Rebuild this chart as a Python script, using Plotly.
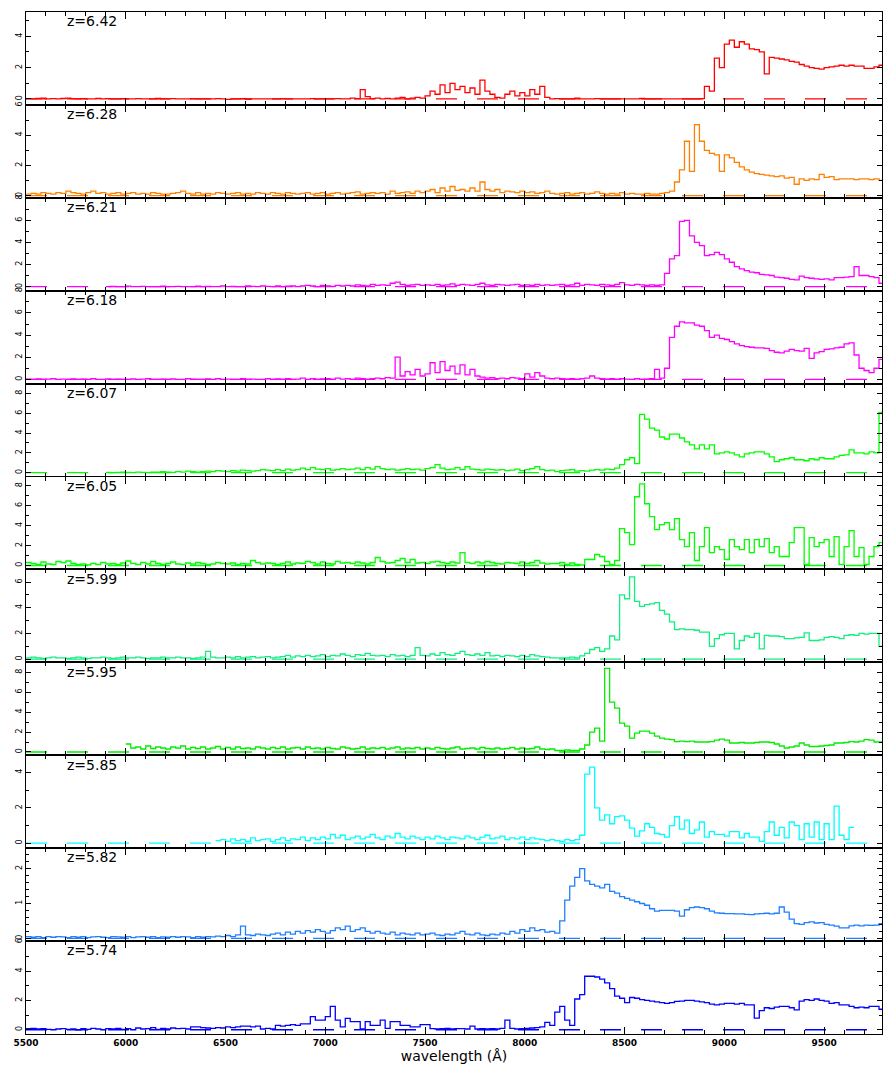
import numpy as np
import plotly.graph_objects as go
from plotly.subplots import make_subplots

# Redshift of each quasar, top panel first
REDSHIFTS = ["6.42", "6.28", "6.21", "6.18", "6.07", "6.05", "5.99", "5.95", "5.85", "5.82", "5.74"]

BIN = 25  # Angstrom per spectral bin

# ---- z = 6.42 ----
z642_blue_start = 5500
z642_blue = [0.02, 0.0, 0.03, 0.05, 0.0, 0.02, 0.0, 0.03, 0.05, 0.02,
             0.0, 0.02, 0.0, 0.0, 0.03, 0.0, 0.02, 0.0, 0.0, 0.02,
             0.0, 0.0, 0.02, 0.0, 0.0, 0.0, 0.03, 0.0, 0.0, 0.02,
             0.0, 0.0, 0.0, 0.02, 0.0, 0.0, 0.0, 0.0, 0.02, 0.0,
             -0.03, 0.0, 0.0, 0.02, -0.02, 0.0, 0.0, 0.0, 0.0, 0.0,
             0.0, 0.02, 0.0, 0.0, 0.0, 0.0, 0.0, 0.02, 0.0, 0.0,
             0.0, 0.0, 0.02, 0.0, 0.0, 0.05, 0.02, 0.6, 0.15, 0.02,
             0.05, 0.0, 0.03, 0.0, 0.05, 0.1, 0.0, 0.05, 0.1, 0.05,
             0.2, 0.5, 0.3, 0.9, 0.4, 1.0, 0.6, 0.8, 0.4, 0.7,
             0.3, 1.2, 0.5, 0.3, 0.1, 0.05, 0.3, 0.5, 0.2, 0.4,
             0.2, 0.6, 0.3, 0.8, 0.1, 0.0, 0.02, 0.0, 0.0, 0.0,
             0.05, 0.0, 0.0, 0.0, 0.02, 0.0, 0.0, 0.0, 0.0, 0.0,
             0.0, 0.0, 0.0, 0.03, 0.0, 0.0, 0.0, 0.0, 0.0, 0.0,
             0.0, 0.0, 0.0, 0.0, 0.0, 0.02]
z642_red_start = 8900
z642_red = [0.8, 0.5, 2.6, 2.0, 3.5, 3.75, 3.3, 3.65, 3.5, 3.2, 3.15, 3.0, 1.6, 2.65, 2.6, 2.55,
            2.5, 2.4, 2.35, 2.2, 2.1, 2.0, 1.95, 1.9, 2.0, 2.05, 2.1, 2.15, 2.1, 2.15, 2.1, 2.1,
            1.95, 1.95, 2.05, 2.15]

# ---- z = 6.28 ----
z628_blue_start = 5500
z628_blue = [0.1, 0.15, 0.1, 0.2, 0.15, 0.1, 0.2, 0.15, 0.3, 0.2,
             0.15, 0.1, 0.2, 0.3, 0.15, 0.2, 0.1, 0.15, 0.2, 0.1,
             0.15, 0.2, 0.1, 0.15, 0.1, 0.2, 0.15, 0.1, 0.1, 0.15,
             0.2, 0.3, 0.15, 0.1, 0.2, 0.1, 0.15, 0.1, 0.2, 0.15,
             0.1, 0.15, 0.2, 0.1, 0.15, 0.1, 0.2, 0.15, 0.1, 0.2,
             0.15, 0.1, 0.2, 0.15, 0.1, 0.15, 0.2, 0.1, 0.15, 0.2,
             0.1, 0.15, 0.2, 0.1, 0.15, 0.2, 0.25, 0.1, 0.15, 0.2,
             0.15, 0.2, 0.1, 0.3, 0.15, 0.2, 0.25, 0.15, 0.3, 0.2,
             0.3, 0.4, 0.2, 0.5, 0.3, 0.6, 0.35, 0.4, 0.3, 0.5,
             0.3, 0.9, 0.4, 0.3, 0.4, 0.2, 0.3, 0.25, 0.2, 0.3,
             0.2, 0.25, 0.15, 0.2, 0.3, 0.15, 0.1, 0.15, 0.2, 0.1,
             0.15, 0.2, 0.1, 0.15, 0.25, 0.15, 0.1, 0.15, 0.1, 0.2,
             0.1, 0.15, 0.1, 0.1, 0.15, 0.1, 0.1, 0.15, 0.2]
z628_red_start = 8725
z628_red = [0.3, 0.9, 1.7, 3.6, 1.6, 4.7, 3.6, 3.0, 2.8, 2.7, 1.6, 2.7, 2.5, 2.2, 1.9, 1.7,
            1.55, 1.45, 1.4, 1.35, 1.3, 1.25, 1.3, 1.15, 1.2, 0.75, 1.1, 1.0, 1.1, 1.05, 1.4,
            1.2, 1.25, 1.05, 1.1, 1.1, 1.1, 1.05, 1.1, 1.1, 1.05, 1.1, 1.0]

# ---- z = 6.21 ----
z621_blue_start = 5900
z621_blue = [0.0, 0.02, 0.0, 0.0, 0.03, 0.0, 0.0, 0.02, 0.0, 0.0,
             0.0, 0.03, 0.0, 0.0, 0.02, 0.0, 0.0, 0.0, 0.03, 0.0,
             0.02, 0.0, 0.0, 0.05, 0.0, 0.02, 0.0, 0.0, 0.05, 0.02,
             0.0, 0.05, 0.02, 0.0, 0.05, 0.0, 0.03, 0.05, 0.0, 0.05,
             0.1, 0.05, 0.0, 0.1, 0.05, 0.02, 0.1, 0.05, 0.1, 0.05,
             0.15, 0.1, 0.05, 0.2, 0.1, 0.15, 0.1, 0.3, 0.4, 0.2,
             0.1, 0.15, 0.2, 0.1, 0.15, 0.1, 0.2, 0.1, 0.15, 0.25,
             0.1, 0.2, 0.15, 0.1, 0.2, 0.3, 0.15, 0.1, 0.2, 0.15,
             0.1, 0.15, 0.2, 0.1, 0.15, 0.1, 0.2, 0.1, 0.15, 0.1,
             0.15, 0.2, 0.1, 0.15, 0.3, 0.1, 0.2, 0.15, 0.1, 0.2,
             0.15, 0.1, 0.2, 0.35, 0.15, 0.1, 0.2, 0.15, 0.1, 0.15,
             0.1, 0.15]
z621_red_start = 8700
z621_red = [1.2, 2.5, 2.8, 5.9, 6.0, 4.6, 4.0, 3.7, 2.8, 2.9, 3.1, 2.9, 2.5, 2.2, 1.8, 1.6,
            1.45, 1.3, 1.25, 1.1, 1.05, 1.0, 0.85, 0.8, 0.75, 0.65, 0.6, 0.95, 0.8, 0.75, 0.7,
            0.65, 0.7, 0.6, 0.8, 0.8, 0.85, 0.9, 1.8, 1.0, 1.0, 0.9, 0.8, 0.3]

# ---- z = 6.18 ----
z618_blue_start = 5500
z618_blue = [0.02, 0.0, 0.03, 0.0, 0.02, 0.05, 0.0, 0.02, 0.0, 0.03,
             0.0, 0.02, 0.0, 0.05, 0.0, 0.0, 0.03, 0.0, 0.02, 0.0,
             0.0, 0.03, 0.0, 0.02, 0.05, 0.0, 0.0, 0.02, 0.0, 0.03,
             0.0, 0.0, 0.05, 0.02, 0.0, 0.0, 0.03, 0.0, 0.05, 0.0,
             0.02, 0.0, 0.0, 0.05, 0.0, 0.02, 0.0, 0.0, 0.05, 0.0,
             0.03, 0.0, 0.05, 0.0, 0.02, 0.1, 0.0, 0.05, 0.0, 0.03,
             0.05, 0.0, 0.1, 0.02, 0.05, 0.0, 0.1, 0.05, 0.0, 0.05,
             0.1, 0.05, 0.15, 0.1, 2.0, 0.3, 0.7, 0.4, 0.9, 0.3,
             0.5, 1.5, 0.6, 1.6, 0.8, 1.2, 0.5, 1.3, 0.4, 0.9,
             0.3, 0.2, 0.1, 0.15, 0.05, 0.1, 0.05, 0.15, 0.1, 0.05,
             0.5, 0.2, 0.6, 0.3, 0.1, 0.05, 0.1, 0.05, 0.02, 0.05,
             0.0, 0.05, 0.1, 0.3, 0.1, 0.05, 0.02, 0.05, 0.0, 0.05,
             0.02, 0.0, 0.05, 0.0, 0.02, 0.05]
z618_red_start = 8650
z618_red = [0.9, 0.1, 1.0, 3.8, 4.8, 5.2, 5.1, 5.1, 4.9, 4.8, 4.4, 3.8, 4.0, 3.7, 3.6, 3.4,
            3.2, 3.05, 2.95, 2.9, 2.85, 2.85, 2.8, 2.6, 2.45, 2.4, 2.55, 2.7, 2.6, 2.55, 2.8,
            1.9, 2.4, 2.5, 2.7, 2.75, 2.85, 2.9, 3.2, 3.3, 2.2, 1.0, 0.8, 0.6, 1.0, 1.8]

# ---- z = 6.07 ----
z607_blue_start = 5900
z607_blue = [0.02, 0.0, 0.03, 0.05, 0.02, 0.0, 0.05, 0.03, 0.0, 0.05,
             0.05, 0.1, 0.05, 0.02, 0.1, 0.05, 0.15, 0.1, 0.05, 0.1,
             0.15, 0.1, 0.2, 0.15, 0.1, 0.2, 0.15, 0.25, 0.2, 0.15,
             0.2, 0.3, 0.25, 0.2, 0.3, 0.2, 0.35, 0.25, 0.3, 0.45,
             0.3, 0.5, 0.35, 0.3, 0.4, 0.25, 0.3, 0.4, 0.3, 0.35,
             0.45, 0.3, 0.5, 0.35, 0.6, 0.4, 0.3, 0.35, 0.25, 0.3,
             0.4, 0.3, 0.35, 0.25, 0.4, 0.5, 0.8, 0.45, 0.3, 0.35,
             0.5, 0.3, 0.6, 0.35, 0.3, 0.25, 0.35, 0.3, 0.25, 0.3,
             0.2, 0.25, 0.35, 0.2, 0.3, 0.4, 0.6, 0.3, 0.2, 0.25]
z607_red_start = 8150
z607_red = [0.1, 0.2, 0.25, 0.3, 0.15, 0.2, 0.15, 0.25, 0.3, 0.25, 0.35, 0.3, 0.45, 0.8, 1.3,
            1.5, 0.9, 5.9, 5.4, 4.5, 4.3, 3.6, 3.4, 3.9, 3.9, 3.5, 3.1, 2.8, 2.4, 2.8, 2.4, 2.8,
            1.9, 2.0, 2.1, 2.0, 1.8, 1.6, 1.9, 2.0, 2.1, 2.1, 1.9, 1.6, 1.1, 1.3, 1.4, 1.5, 1.3,
            1.3, 1.2, 1.4, 1.3, 1.5, 1.4, 1.4, 1.6, 1.75, 1.8, 2.3, 2.0, 2.0, 1.9, 2.1, 2.0, 6.1]

# ---- z = 6.05 ----
z605_blue_start = 5500
z605_blue = [0.3, 0.2, 0.1, 0.35, 0.15, 0.1, 0.4, 0.3, 0.45, 0.2,
             0.1, 0.15, 0.05, 0.2, 0.1, 0.3, 0.15, 0.2, 0.1, 0.25,
             0.45, 0.2, 0.1, 0.3, 0.15, 0.4, 0.2, 0.1, 0.2, 0.35,
             0.15, 0.1, 0.25, 0.15, 0.3, 0.2, 0.1, 0.15, 0.3, 0.2,
             0.15, 0.25, 0.1, 0.2, 0.15, 0.5, 0.3, 0.15, 0.25, 0.2,
             0.1, 0.2, 0.35, 0.15, 0.25, 0.2, 0.4, 0.3, 0.15, 0.35,
             0.2, 0.15, 0.4, 0.25, 0.3, 0.2, 0.35, 0.25, 0.15, 0.3,
             0.8, 0.4, 0.25, 0.3, 0.5, 0.7, 0.3, 0.6, 0.25, 0.3,
             0.2, 0.35, 0.4, 0.3, 0.2, 0.35, 0.25, 1.3, 0.3, 0.2,
             0.35, 0.25, 0.4, 0.3, 0.2, 0.15, 0.3, 0.25, 0.2, 0.35,
             0.2, 0.3, 0.5, 0.25, 0.15, 0.2]
z605_red_start = 8150
z605_red = [0.2, 0.3, 0.1, 0.25, 0.1, 0.05, 0.6, 0.6, 1.1, 0.9, 0.4, 0.1, 0.5, 3.7, 3.3, 2.1,
            6.9, 8.2, 6.2, 4.9, 3.6, 4.1, 4.3, 3.6, 4.7, 2.6, 1.9, 3.3, 0.5, 1.9, 3.8, 1.3, 1.9,
            1.6, 0.6, 2.6, 1.9, 1.6, 2.6, 1.3, 2.6, 1.9, 2.7, 1.3, 1.9, 0.9, 0.9, 2.3, 3.8, 3.8,
            0.1, 2.8, 1.9, 2.3, 2.6, 0.9, 2.9, 0.1, 1.9, 3.5, 0.9, 1.8, 0.1, 0.9, 1.9, 2.3]

# ---- z = 5.99 ----
z599_blue_start = 5500
z599_blue = [0.1, 0.15, 0.1, 0.05, 0.1, 0.15, 0.1, 0.1, 0.05, 0.1,
             0.15, 0.1, 0.05, 0.1, 0.1, 0.15, 0.1, 0.05, 0.1, 0.15,
             0.1, 0.1, 0.15, 0.1, 0.05, 0.1, 0.1, 0.15, 0.1, 0.1,
             0.15, 0.1, 0.1, 0.05, 0.1, 0.15, 0.6, 0.15, 0.1, 0.1,
             0.15, 0.1, 0.2, 0.1, 0.15, 0.2, 0.1, 0.15, 0.2, 0.1,
             0.15, 0.2, 0.3, 0.15, 0.25, 0.2, 0.3, 0.2, 0.25, 0.35,
             0.2, 0.3, 0.25, 0.4, 0.3, 0.2, 0.35, 0.3, 0.45, 0.3,
             0.25, 0.3, 0.2, 0.35, 0.25, 0.3, 0.2, 0.3, 0.9, 0.3,
             0.25, 0.4, 0.3, 0.5, 0.35, 0.3, 0.45, 0.6, 0.35, 0.3,
             0.4, 0.3, 0.5, 0.25, 0.3, 0.2, 0.3, 0.25, 0.2, 0.3,
             0.2, 0.35, 0.25, 0.2, 0.15, 0.1]
z599_red_start = 8150
z599_red = [0.1, 0.1, 0.1, 0.15, 0.1, 0.25, 0.45, 0.75, 0.9, 0.6, 0.8, 1.8, 1.5, 5.0, 4.7, 6.4,
            4.5, 4.1, 4.25, 4.3, 4.4, 3.8, 3.5, 2.9, 2.3, 2.35, 2.3, 2.3, 2.25, 2.1, 2.1, 1.0,
            1.6, 1.9, 2.0, 2.0, 0.8, 1.45, 1.8, 1.7, 2.0, 0.8, 1.85, 1.8, 1.8, 1.75, 1.6, 1.6,
            1.65, 1.7, 2.05, 1.45, 1.45, 1.5, 1.7, 1.75, 1.7, 1.6, 1.85, 1.9, 1.85, 2.0, 1.95,
            2.0, 2.0, 1.0]

# ---- z = 5.95 ----
z595_blue_start = 6000
z595_blue = [0.8, 0.4, 0.5, 0.3, 0.6, 0.35, 0.5, 0.4, 0.3, 0.5,
             0.4, 0.6, 0.3, 0.45, 0.35, 0.5, 0.3, 0.4, 0.55, 0.3,
             0.45, 0.3, 0.5, 0.35, 0.4, 0.3, 0.5, 0.4, 0.3, 0.45,
             0.35, 0.5, 0.3, 0.4, 0.45, 0.3, 0.5, 0.35, 0.4, 0.3,
             0.45, 0.35, 0.3, 0.5, 0.4, 0.3, 0.35, 0.5, 0.3, 0.4,
             0.35, 0.45, 0.3, 0.4, 0.5, 0.3, 0.4, 0.35, 0.45, 0.3,
             0.4, 0.3, 0.45, 0.35, 0.3, 0.4, 0.5, 0.3, 0.35, 0.4,
             0.3, 0.45, 0.35, 0.3, 0.4, 0.3, 0.35, 0.45, 0.3, 0.4,
             0.3, 0.35, 0.5, 0.3, 0.25, 0.3]
z595_red_start = 8150
z595_red = [0.15, 0.15, 0.2, 0.15, 0.15, 0.3, 0.7, 2.0, 2.4, 1.1, 8.4, 5.0, 4.4, 2.9, 2.6, 1.4,
            1.9, 2.1, 2.1, 1.9, 1.6, 1.4, 1.3, 1.25, 1.05, 1.1, 1.05, 1.1, 1.0, 1.0, 1.0, 1.05,
            1.2, 1.3, 1.2, 0.9, 0.9, 0.95, 0.9, 0.9, 0.95, 1.0, 1.0, 0.95, 0.8, 0.6, 0.4, 0.5,
            0.6, 0.9, 0.7, 0.55, 0.55, 0.6, 0.65, 0.7, 0.9, 0.9, 0.95, 1.05, 1.0, 1.1, 1.25,
            1.2, 1.0, 1.0]

# ---- z = 5.85 ----
z585_blue_start = 6450
z585_blue = [0.15, 0.2, 0.1, 0.25, 0.15, 0.2, 0.1, 0.3, 0.15, 0.2,
             0.25, 0.1, 0.2, 0.3, 0.15, 0.25, 0.2, 0.35, 0.15, 0.3,
             0.2, 0.35, 0.25, 0.5, 0.3, 0.45, 0.2, 0.3, 0.4, 0.25,
             0.35, 0.5, 0.3, 0.2, 0.4, 0.3, 0.55, 0.35, 0.25, 0.4,
             0.3, 0.2, 0.35, 0.25, 0.4, 0.3, 0.2, 0.35, 0.3, 0.25,
             0.4, 0.3, 0.2, 0.35, 0.45, 0.25, 0.3, 0.4, 0.2, 0.3,
             0.25, 0.35, 0.2, 0.3, 0.25, 0.2, 0.15, 0.2]
z585_red_start = 8150
z585_red = [0.15, 0.1, 0.2, 0.15, 0.2, 0.45, 3.9, 4.3, 2.0, 1.3, 1.6, 1.1, 1.5, 1.55, 1.3, 0.85,
            0.4, 0.7, 1.1, 0.9, 0.55, 0.5, 0.35, 1.0, 1.5, 0.8, 1.3, 0.55, 0.75, 1.2, 0.35,
            0.65, 0.5, 0.5, 0.4, 0.65, 0.65, 0.3, 0.55, 0.35, 0.35, 0.1, 0.65, 1.2, 0.45, 0.9,
            0.3, 1.2, 1.0, 0.2, 1.1, 0.35, 1.2, 0.2, 1.1, 0.2, 2.1, 0.45, 0.2, 0.9]

# ---- z = 5.82 ----
z582_blue_start = 5500
z582_blue = [0.05, 0.03, 0.05, 0.02, 0.05, 0.03, 0.05, 0.04, 0.02, 0.05,
             0.03, 0.05, 0.02, 0.04, 0.05, 0.03, 0.02, 0.05, 0.04, 0.03,
             0.05, 0.02, 0.04, 0.05, 0.03, 0.05, 0.02, 0.04, 0.03, 0.05,
             0.03, 0.05, 0.04, 0.02, 0.05, 0.03, 0.05, 0.04, 0.06, 0.05,
             0.08, 0.05, 0.1, 0.35, 0.1, 0.08, 0.12, 0.1, 0.08, 0.12,
             0.15, 0.1, 0.18, 0.12, 0.2, 0.15, 0.22, 0.18, 0.25, 0.2,
             0.15, 0.22, 0.3, 0.25, 0.35, 0.2, 0.25, 0.3, 0.2, 0.15,
             0.2, 0.15, 0.12, 0.18, 0.1, 0.15, 0.12, 0.1, 0.15, 0.1,
             0.12, 0.15, 0.1, 0.08, 0.12, 0.1, 0.15, 0.2, 0.12, 0.1,
             0.15, 0.1, 0.08, 0.12, 0.1, 0.15, 0.12, 0.2, 0.15, 0.25,
             0.2, 0.3, 0.22, 0.25]
z582_red_start = 8100
z582_red = [0.18, 0.2, 0.15, 0.5, 1.1, 1.5, 1.75, 2.0, 1.65, 1.55, 1.5, 1.45, 1.55, 1.35, 1.3,
            1.2, 1.15, 1.1, 1.05, 1.0, 0.95, 0.85, 0.78, 0.8, 0.8, 0.8, 0.78, 0.64, 0.82, 0.88,
            0.9, 0.88, 0.85, 0.78, 0.73, 0.72, 0.71, 0.71, 0.7, 0.7, 0.69, 0.68, 0.7, 0.71, 0.72,
            0.7, 0.72, 0.9, 0.75, 0.55, 0.42, 0.4, 0.45, 0.47, 0.44, 0.45, 0.4, 0.38, 0.35, 0.3,
            0.3, 0.36, 0.38, 0.36, 0.38, 0.37, 0.38, 0.42]

# ---- z = 5.74 ----
z574_blue_start = 5500
z574_blue = [0.07, 0.1, 0.05, 0.07, 0.03, 0.0, 0.05, 0.08, 0.02, 0.05,
             0.0, 0.07, 0.03, 0.1, 0.05, 0.0, 0.08, 0.05, 0.1, 0.03,
             0.07, 0.0, 0.12, 0.05, 0.08, 0.15, 0.03, 0.1, 0.05, 0.12,
             0.07, 0.1, 0.05, 0.2, 0.2, 0.15, 0.12, 0.1, 0.15, 0.12,
             0.2, 0.15, 0.2, 0.25, 0.25, 0.2, 0.25, 0.05, 0.1, 0.05,
             0.3, 0.25, 0.3, 0.35, 0.3, 0.4, 0.4, 0.9, 0.65, 0.65,
             0.9, 1.6, 0.65, 0.2, 0.77, 0.55, 0.55, 0.05, 0.55, 0.3,
             0.3, 0.65, 0.1, 0.55, 0.55, 0.3, 0.3, 0.2, 0.2, 0.35,
             0.35, 0.07, 0.05, 0.07, 0.1, 0.05, 0.07, 0.08, 0.05, 0.25,
             0.05, 0.07, 0.05, 0.08, 0.05, 0.1, 0.65, 0.1, 0.05, 0.08,
             0.1, 0.12]
z574_red_start = 8050
z574_red = [0.15, 0.2, 0.5, 0.3, 1.2, 1.6, 0.65, 0.3, 2.1, 2.4, 3.65, 3.65, 3.6, 3.45, 3.2, 2.8,
            2.3, 2.15, 1.85, 2.2, 2.15, 2.05, 2.0, 1.95, 1.9, 1.85, 1.8, 1.85, 1.93, 1.95, 2.0,
            2.0, 1.95, 1.9, 1.85, 1.75, 1.7, 1.75, 1.8, 1.8, 1.75, 1.8, 1.7, 1.7, 0.8, 1.3, 1.5,
            1.45, 1.55, 1.6, 1.6, 1.5, 1.35, 1.95, 2.05, 2.0, 2.1, 2.0, 1.95, 1.8, 1.85, 1.7,
            1.7, 1.6, 1.5, 1.55, 1.5, 1.6, 1.6, 1.4]

SPECTRA = [
    (z642_blue_start, z642_blue, z642_red_start, z642_red),
    (z628_blue_start, z628_blue, z628_red_start, z628_red),
    (z621_blue_start, z621_blue, z621_red_start, z621_red),
    (z618_blue_start, z618_blue, z618_red_start, z618_red),
    (z607_blue_start, z607_blue, z607_red_start, z607_red),
    (z605_blue_start, z605_blue, z605_red_start, z605_red),
    (z599_blue_start, z599_blue, z599_red_start, z599_red),
    (z595_blue_start, z595_blue, z595_red_start, z595_red),
    (z585_blue_start, z585_blue, z585_red_start, z585_red),
    (z582_blue_start, z582_blue, z582_red_start, z582_red),
    (z574_blue_start, z574_blue, z574_red_start, z574_red),
]

# ---- styling ----
COLORS = ["#ff0000", "#ff8000", "#ff00ff", "#ff00ff", "#00ff00", "#00ff00",
          "#10f080", "#00ee00", "#00ffff", "#1e7fff", "#0000ff"]
Y_RANGES = [(-0.38, 5.55), (-0.15, 6.01), (-0.38, 8.04), (-0.39, 8.01), (-0.4, 9.0),
            (-0.4, 8.93), (-0.25, 6.98), (-0.33, 9.0), (-0.28, 4.97), (-0.08, 2.59),
            (-0.29, 6.05)]
Y_MAJOR = [2, 2, 2, 2, 2, 2, 2, 2, 2, 1, 2]
Y_MINOR = [1, 1, 1, 1, 1, 1, 1, 1, 1, 0.2, 1]
X_RANGE = (5500, 9790)
FONT = "DejaVu Sans"

n = len(SPECTRA)
fig = make_subplots(rows=n, cols=1, shared_xaxes=True, vertical_spacing=0)

for k, (bs, bf, rs, rf) in enumerate(SPECTRA):
    row = k + 1
    wb = bs + BIN * np.arange(len(bf))
    keep = wb < rs
    wr = rs + BIN * np.arange(len(rf))
    wave = np.concatenate([wb[keep], wr, [wr[-1] + BIN]])
    flux = np.concatenate([np.asarray(bf)[keep], rf, [rf[-1]]])

    # dashed zero level
    fig.add_trace(go.Scatter(x=list(X_RANGE), y=[0, 0], mode="lines",
                             line=dict(color=COLORS[k], width=1.3, dash="21px,20px"),
                             hoverinfo="skip"), row=row, col=1)
    # spectrum as a histogram-style step line
    fig.add_trace(go.Scatter(x=wave, y=flux, mode="lines", line_shape="hv",
                             line=dict(color=COLORS[k], width=1.3)), row=row, col=1)

    fig.update_yaxes(range=list(Y_RANGES[k]), tick0=0, dtick=Y_MAJOR[k],
                     ticks="inside", ticklen=5, tickwidth=1, tickcolor="black",
                     minor=dict(ticks="inside", dtick=Y_MINOR[k], tick0=0, ticklen=3,
                                tickcolor="black", tickwidth=1),
                     showline=True, linecolor="black", linewidth=1, mirror="ticks",
                     showgrid=False, zeroline=False, tickangle=-90,
                     tickfont=dict(family=FONT, size=8, color="black"),
                     row=row, col=1)
    fig.update_xaxes(range=list(X_RANGE), tick0=5500, dtick=500, tickformat="d",
                     ticks="inside", ticklen=7, tickwidth=1, tickcolor="black",
                     minor=dict(ticks="inside", dtick=100, tick0=5500, ticklen=4,
                                tickcolor="black", tickwidth=1),
                     showline=True, linecolor="black", linewidth=1, mirror="ticks",
                     showgrid=False, zeroline=False,
                     row=row, col=1)

    yref = "y domain" if row == 1 else f"y{row} domain"
    xref = "x domain" if row == 1 else f"x{row} domain"
    fig.add_annotation(text=f"z={REDSHIFTS[k]}", xref=xref, yref=yref,
                       x=0.046, y=0.9, xanchor="left", yanchor="middle",
                       showarrow=False, font=dict(family=FONT, size=14, color="black"))

fig.update_xaxes(showticklabels=True,
                 tickfont=dict(family=FONT, size=9, color="black", weight="bold"),
                 title=dict(text="wavelength (Å)", font=dict(family=FONT, size=14, color="black"),
                            standoff=4),
                 row=n, col=1)

fig.update_layout(width=891, height=1070, showlegend=False,
                  margin=dict(l=26, r=8, t=8, b=30),
                  plot_bgcolor="white", paper_bgcolor="white")

fig.write_html("out.html")
